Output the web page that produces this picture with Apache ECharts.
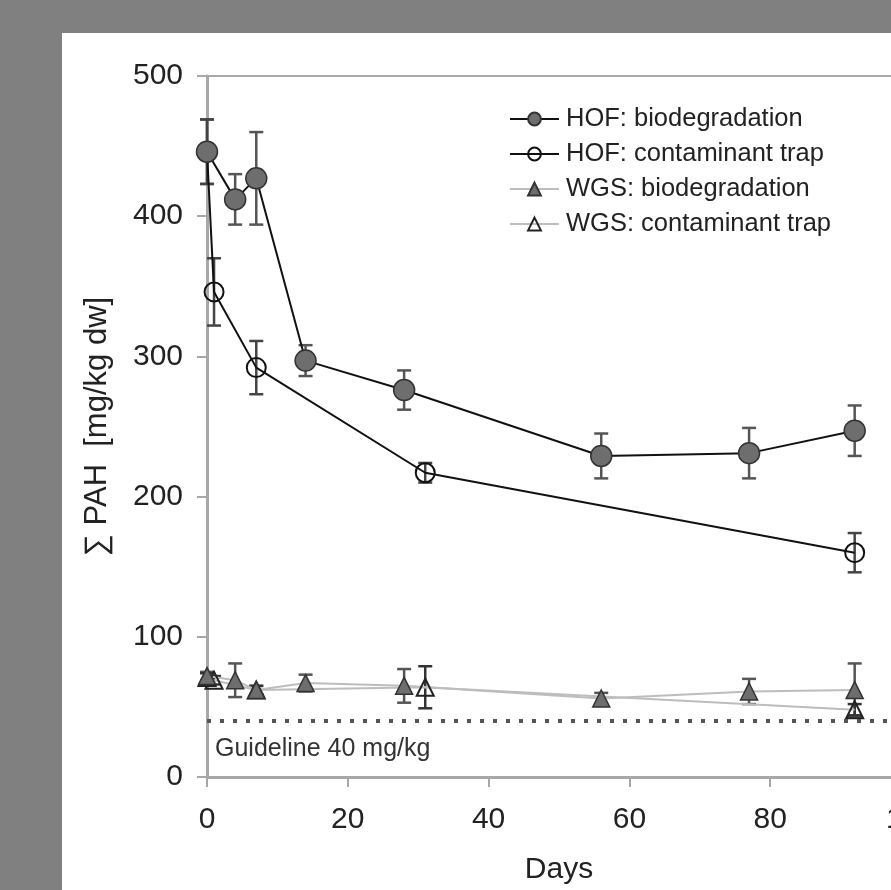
<!DOCTYPE html>
<html>
<head>
<meta charset="utf-8">
<script src="https://cdn.jsdelivr.net/npm/echarts@6/dist/echarts.min.js"></script>
<style>
html,body{margin:0;padding:0;background:#808080;}
#chart{width:891px;height:890px;}
</style>
</head>
<body>
<div id="chart"></div>
<script>
// ---- data ----
var xTicks = [0, 20, 40, 60, 80, 100];
var yTicks = [0, 100, 200, 300, 400, 500];

var hofBioDays = [0, 4, 7, 14, 28, 56, 77, 92];
var hofBioMean = [446, 412, 427, 297, 276, 229, 231, 247];
var hofBioErr  = [23, 18, 33, 11, 14, 16, 18, 18];

var hofTrapDays = [0, 1, 7, 31, 92];
var hofTrapMean = [446, 346, 292, 217, 160];
var hofTrapErr  = [23, 24, 19, 7, 14];

var wgsBioDays = [0, 4, 7, 14, 28, 56, 77, 92];
var wgsBioMean = [72, 69, 62, 67, 65, 56, 61, 62];
var wgsBioErr  = [3, 12, 3, 6, 12, 4, 9, 19];

var wgsTrapDays = [0, 1, 7, 31, 92];
var wgsTrapMean = [71, 69, 62, 64, 48];
var wgsTrapErr  = [3, 3, 3, 15, 4];

var guideline = 40;
var seriesNames = ['HOF: biodegradation', 'HOF: contaminant trap', 'WGS: biodegradation', 'WGS: contaminant trap'];

// ---- helpers ----
function pts(days, vals) { return days.map(function (d, i) { return [d, vals[i]]; }); }
function errs(days, vals, e) { return days.map(function (d, i) { return [d, vals[i] - e[i], vals[i] + e[i]]; }); }

function errorSeries(data, color) {
  return {
    type: 'custom',
    silent: true,
    z: 1,
    data: data,
    encode: { x: 0, y: [1, 2] },
    renderItem: function (params, api) {
      var lo = api.coord([api.value(0), api.value(1)]);
      var hi = api.coord([api.value(0), api.value(2)]);
      var hw = 7;
      var st = { stroke: color, lineWidth: 2.5 };
      return {
        type: 'group',
        children: [
          { type: 'line', shape: { x1: hi[0], y1: hi[1], x2: lo[0], y2: lo[1] }, style: st },
          { type: 'line', shape: { x1: hi[0] - hw, y1: hi[1], x2: hi[0] + hw, y2: hi[1] }, style: st },
          { type: 'line', shape: { x1: lo[0] - hw, y1: lo[1], x2: lo[0] + hw, y2: lo[1] }, style: st }
        ]
      };
    }
  };
}

var font = 'Liberation Sans, Arial, sans-serif';
var chart = echarts.init(document.getElementById('chart'));

var option = {
  backgroundColor: '#808080',
  animation: false,
  graphic: [
    { type: 'rect', z: -10, silent: true, shape: { x: 62, y: 33, width: 900, height: 900 }, style: { fill: '#ffffff' } }
  ],
  grid: {
    left: 207, right: -20, top: 76, bottom: 113,
    containLabel: false, outerBoundsMode: 'none',
    show: true, borderColor: '#a8a8a8', borderWidth: 2, backgroundColor: 'transparent'
  },
  legend: {
    orient: 'vertical',
    left: 509,
    top: 106,
    padding: 0,
    itemWidth: 49,
    itemHeight: 16,
    itemGap: 9,
    data: seriesNames,
    textStyle: { fontFamily: font, fontSize: 25.5, color: '#222', padding: [0, 0, 0, 2] }
  },
  xAxis: {
    type: 'value',
    min: 0, max: 100, interval: 20,
    name: 'Days',
    nameLocation: 'middle',
    nameGap: 78,
    nameTextStyle: { fontFamily: font, fontSize: 30, color: '#222' },
    axisLine: { show: true, lineStyle: { color: '#a8a8a8', width: 3 } },
    axisTick: { show: true, length: 10, lineStyle: { color: '#a8a8a8', width: 2 } },
    axisLabel: {
      margin: 28, fontFamily: font, fontSize: 30, color: '#222',
      formatter: function (v) { return xTicks.indexOf(v) >= 0 ? String(v) : ''; }
    },
    splitLine: { show: false }
  },
  yAxis: {
    type: 'value',
    min: 0, max: 500, interval: 100,
    name: '\u2211 PAH  [mg/kg dw]',
    nameLocation: 'middle',
    nameGap: 94,
    nameTextStyle: { fontFamily: font, fontSize: 31, color: '#222' },
    axisLine: { show: true, lineStyle: { color: '#a8a8a8', width: 3 } },
    axisTick: { show: true, length: 10, lineStyle: { color: '#a8a8a8', width: 2 } },
    axisLabel: {
      margin: 24, fontFamily: font, fontSize: 30, color: '#222',
      formatter: function (v) { return yTicks.indexOf(v) >= 0 ? String(v) : ''; }
    },
    splitLine: { show: false }
  },
  series: [
    errorSeries(errs(wgsBioDays, wgsBioMean, wgsBioErr), '#555'),
    errorSeries(errs(wgsTrapDays, wgsTrapMean, wgsTrapErr), '#333'),
    errorSeries(errs(hofBioDays, hofBioMean, hofBioErr), '#555'),
    errorSeries(errs(hofTrapDays, hofTrapMean, hofTrapErr), '#444'),
    {
      name: seriesNames[3], type: 'line', z: 3,
      data: pts(wgsTrapDays, wgsTrapMean),
      symbol: 'triangle', symbolSize: 17,
      lineStyle: { color: '#bdbdbd', width: 2 },
      itemStyle: { color: 'rgba(255,255,255,0)', borderColor: '#222', borderWidth: 2 },
      markLine: {
        silent: true, symbol: 'none',
        lineStyle: { color: '#555', type: [4, 9], width: 4 },
        label: {
          show: true, position: 'insideStartBottom', distance: [8, 16],
          formatter: 'Guideline 40 mg/kg',
          fontFamily: font, fontSize: 25, color: '#333'
        },
        data: [{ yAxis: guideline }]
      }
    },
    {
      name: seriesNames[2], type: 'line', z: 3,
      data: pts(wgsBioDays, wgsBioMean),
      symbol: 'triangle', symbolSize: 17,
      lineStyle: { color: '#bdbdbd', width: 2 },
      itemStyle: { color: '#6e6e6e', borderColor: '#333', borderWidth: 1.5 }
    },
    {
      name: seriesNames[1], type: 'line', z: 4,
      data: pts(hofTrapDays, hofTrapMean),
      symbol: 'circle', symbolSize: 19,
      lineStyle: { color: '#111', width: 2 },
      itemStyle: { color: 'rgba(255,255,255,0)', borderColor: '#111', borderWidth: 2 }
    },
    {
      name: seriesNames[0], type: 'line', z: 5,
      data: pts(hofBioDays, hofBioMean),
      symbol: 'circle', symbolSize: 21,
      lineStyle: { color: '#111', width: 2 },
      itemStyle: { color: '#6e6e6e', borderColor: '#333', borderWidth: 1.5 }
    }
  ]
};
chart.setOption(option);
</script>
</body>
</html>
